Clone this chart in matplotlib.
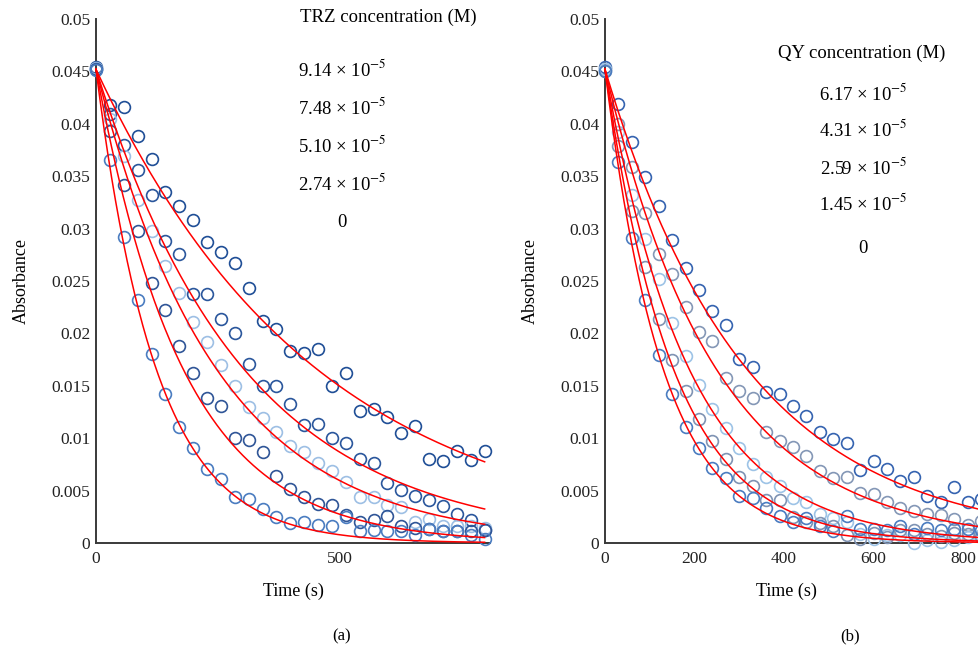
import matplotlib
matplotlib.use('Agg')
import matplotlib.pyplot as plt
import numpy as np
from matplotlib.ticker import FuncFormatter

plt.rcParams['font.family'] = ['Liberation Serif', 'DejaVu Serif']
plt.rcParams['mathtext.fontset'] = 'stix'

# ---- data ----
# (a) TRZ: sampling every ~28.5 s
time_trz = [0, 28.5, 57, 85.5, 114, 142.5, 171, 199.5, 228, 256.5, 285, 313.5,
            342, 370.5, 399, 427.5, 456, 484.5, 513, 541.5, 570, 598.5, 627,
            655.5, 684, 712.5, 741, 769.5, 798]
trz_914 = [0.0454, 0.0418, 0.0416, 0.0388, 0.0366, 0.0335, 0.0322, 0.0308, 0.0287,
           0.0278, 0.0267, 0.0243, 0.0212, 0.0204, 0.0183, 0.0181, 0.0185, 0.0150,
           0.0162, 0.0126, 0.0128, 0.0120, 0.0105, 0.0112, 0.0080, 0.0078, 0.0088,
           0.0079, 0.0088]
trz_748 = [0.0452, 0.0409, 0.0380, 0.0356, 0.0332, 0.0288, 0.0276, 0.0238, 0.0238,
           0.0214, 0.0200, 0.0171, 0.0150, 0.0150, 0.0133, 0.0113, 0.0114, 0.0100,
           0.0095, 0.0080, 0.0076, 0.0057, 0.0051, 0.0045, 0.0041, 0.0035, 0.0028,
           0.0022, 0.0012]
trz_510 = [0.0453, 0.0405, 0.0369, 0.0327, 0.0298, 0.0264, 0.0239, 0.0211, 0.0192,
           0.0170, 0.0150, 0.0130, 0.0119, 0.0106, 0.0093, 0.0087, 0.0076, 0.0069,
           0.0058, 0.0044, 0.0044, 0.0036, 0.0034, 0.0020, 0.0023, 0.0016, 0.0016,
           0.0016, 0.0014]
trz_274 = [0.0452, 0.0393, 0.0342, 0.0298, 0.0248, 0.0222, 0.0188, 0.0162, 0.0138,
           0.0131, 0.0100, 0.0098, 0.0087, 0.0064, 0.0052, 0.0044, 0.0037, 0.0036,
           0.0027, 0.0020, 0.0022, 0.0026, 0.0016, 0.0014, 0.0013, 0.0011, 0.0011,
           0.0011, 0.0012]
trz_0 = [0.0451, 0.0365, 0.0292, 0.0232, 0.0180, 0.0142, 0.0111, 0.0091, 0.0071,
         0.0061, 0.0044, 0.0042, 0.0032, 0.0025, 0.0019, 0.0020, 0.0017, 0.0016,
         0.0025, 0.0011, 0.0012, 0.0011, 0.0011, 0.0008, 0.0013, 0.0011, 0.0011,
         0.0008, 0.0004]
trz_labels = ['9.14', '7.48', '5.10', '2.74', '0']
trz_k = [0.00221, 0.00330, 0.00405, 0.0056, 0.0081]   # fitted first-order rates (1/s)

# (b) QY: sampling every 30 s
time_qy = [0, 30, 60, 90, 120, 150, 180, 210, 240, 270, 300, 330, 360, 390, 420,
           450, 480, 510, 540, 570, 600, 630, 660, 690, 720, 750, 780, 810, 840]
qy_617 = [0.0454, 0.0419, 0.0383, 0.0349, 0.0322, 0.0289, 0.0262, 0.0241, 0.0221,
          0.0208, 0.0176, 0.0168, 0.0144, 0.0142, 0.0131, 0.0121, 0.0106, 0.0099,
          0.0095, 0.0070, 0.0078, 0.0071, 0.0059, 0.0063, 0.0045, 0.0039, 0.0053,
          0.0039, 0.0042]
qy_431 = [0.0452, 0.0400, 0.0359, 0.0315, 0.0276, 0.0257, 0.0225, 0.0201, 0.0193,
          0.0157, 0.0145, 0.0138, 0.0106, 0.0097, 0.0092, 0.0083, 0.0069, 0.0062,
          0.0063, 0.0048, 0.0047, 0.0039, 0.0033, 0.0031, 0.0028, 0.0027, 0.0023,
          0.0017, 0.0021]
qy_259 = [0.0452, 0.0392, 0.0332, 0.0290, 0.0252, 0.0210, 0.0178, 0.0151, 0.0128,
          0.0110, 0.0091, 0.0075, 0.0063, 0.0054, 0.0043, 0.0039, 0.0028, 0.0024,
          0.0020, 0.0009, 0.0004, 0.0008, 0.0008, 0.0000, 0.0003, 0.0001, 0.0003,
          0.0006, 0.0008]
qy_145 = [0.0450, 0.0379, 0.0317, 0.0263, 0.0214, 0.0175, 0.0145, 0.0118, 0.0097,
          0.0080, 0.0063, 0.0054, 0.0041, 0.0041, 0.0025, 0.0020, 0.0019, 0.0016,
          0.0008, 0.0004, 0.0010, 0.0006, 0.0012, 0.0012, 0.0009, 0.0007, 0.0010,
          0.0009, 0.0006]
qy_0 = [0.0450, 0.0364, 0.0291, 0.0232, 0.0179, 0.0142, 0.0111, 0.0091, 0.0072,
        0.0062, 0.0045, 0.0043, 0.0033, 0.0026, 0.0020, 0.0024, 0.0016, 0.0011,
        0.0026, 0.0013, 0.0013, 0.0012, 0.0016, 0.0009, 0.0014, 0.0012, 0.0013,
        0.0013, 0.0012]
qy_labels = ['6.17', '4.31', '2.59', '1.45', '0']
qy_k = [0.00316, 0.00403, 0.00533, 0.00655, 0.0077]

a0_fit = 0.0452

trz_colors = ['#1f4e96', '#2a569c', '#9dbfe4', '#2f5597', '#4a7cc0']
qy_colors = ['#3563b0', '#8497b6', '#9dc3e6', '#7f93b3', '#4a7cc0']


def style_axis(ax, xmax, xticks):
    ax.set_xlim(0, xmax)
    ax.set_ylim(0, 0.05)
    ax.set_yticks(np.arange(0, 0.0501, 0.005))
    ax.yaxis.set_major_formatter(FuncFormatter(lambda v, p: f'{round(v, 4):g}'))
    ax.set_xticks(xticks)
    for s in ['top', 'right']:
        ax.spines[s].set_visible(False)
    for s in ['left', 'bottom']:
        ax.spines[s].set_color('#3a3a3a')
        ax.spines[s].set_linewidth(1.4)
    ax.tick_params(length=0, labelsize=12.5, colors='#222222')
    ax.tick_params(axis='y', pad=4)
    ax.tick_params(axis='x', pad=6)
    ax.set_xlabel('Time (s)', fontsize=13, labelpad=11)
    ax.set_ylabel('Absorbance', fontsize=13, labelpad=16)


def draw_panel(ax, t, series, rates, colors):
    for y, c in zip(series, colors):
        ax.plot(t, y, 'o', mfc='none', mec=c, ms=8.5, mew=1.2,
                clip_on=False, zorder=3)
    tt = np.linspace(0, t[-1], 300)
    for k in rates:
        ax.plot(tt, a0_fit * np.exp(-k * tt), color='#ff0000', lw=1.1,
                clip_on=False, zorder=4)


fig = plt.figure(figsize=(9.79, 6.5), dpi=100)
W, H = 979, 650
ax1 = fig.add_axes([96 / W, 1 - 543 / H, (490 - 96) / W, (543 - 19) / H])
ax2 = fig.add_axes([605 / W, 1 - 543 / H, (968 - 605) / W, (543 - 19) / H])

draw_panel(ax1, time_trz, [trz_914, trz_748, trz_510, trz_274, trz_0], trz_k, trz_colors)
draw_panel(ax2, time_qy, [qy_617, qy_431, qy_259, qy_145, qy_0], qy_k, qy_colors)

style_axis(ax1, 809, [0, 500])
style_axis(ax2, 811, [0, 200, 400, 600, 800])

# concentration key (text only)
fig.text(388 / W, 1 - 17 / H, 'TRZ concentration (M)', fontsize=13.5,
         ha='center', va='center')
for i, lab in enumerate(trz_labels):
    txt = lab if lab == '0' else lab + r' × 10$^{-5}$'
    fig.text(342 / W, 1 - (69 + 38.3 * i) / H, txt, fontsize=13.5,
             ha='center', va='center')

fig.text(862 / W, 1 - 53 / H, 'QY concentration (M)', fontsize=13.5,
         ha='center', va='center')
for i, lab in enumerate(qy_labels):
    txt = lab if lab == '0' else lab + r' × 10$^{-5}$'
    y = 93 + 37 * i if lab != '0' else 248
    fig.text(863 / W, 1 - y / H, txt, fontsize=13.5, ha='center', va='center')

fig.text(342 / W, 1 - 636 / H, '(a)', fontsize=12, ha='center', va='center')
fig.text(850 / W, 1 - 636 / H, '(b)', fontsize=12, ha='center', va='center')

fig.savefig('out.png', dpi=100)
plt.close()
